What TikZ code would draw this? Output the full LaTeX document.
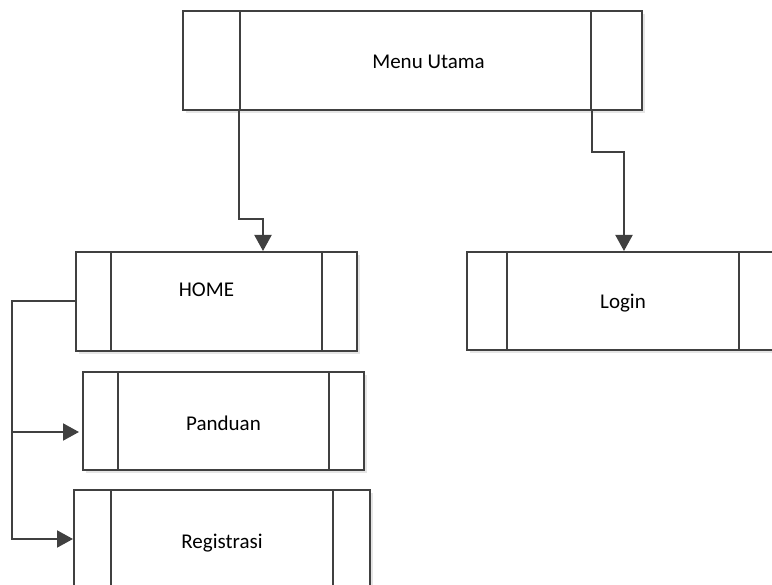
\documentclass[tikz,border=0pt]{standalone}
\usepackage{fontspec}
\setmainfont{Carlito}
\usetikzlibrary{arrows.meta,shadows}
\definecolor{linegray}{HTML}{404040}

\begin{document}
\begin{tikzpicture}[x=1pt,y=-1pt,
    link/.style={draw=linegray,line width=2pt,-{Triangle[length=16pt,width=17pt]}},
    proc/.style={draw=linegray,line width=2pt,fill=white,rectangle,inner sep=0pt,
      font=\fontsize{21}{25}\selectfont,
      drop shadow={shadow xshift=3pt,shadow yshift=-3pt,fill=black!10,opacity=1}},
    bars/.style 2 args={path picture={
      \draw[linegray,line width=2pt] ([xshift=#1]path picture bounding box.north west) -- ([xshift=#1]path picture bounding box.south west);
      \draw[linegray,line width=2pt] ([xshift=-#2]path picture bounding box.north east) -- ([xshift=-#2]path picture bounding box.south east);}},
    txt/.style={font=\fontsize{21}{25}\selectfont,inner sep=0pt}]
  \useasboundingbox (0,0) rectangle (772,585);

  % boxes
  \node[proc,bars={57pt}{51pt},minimum width=459pt,minimum height=99pt,
        label={[txt,xshift=16pt,yshift=-1pt]center:Menu Utama}] (menu) at (412.5,60.5) {};
  \node[proc,bars={35pt}{35pt},minimum width=281pt,minimum height=99pt,
        label={[txt,xshift=-10pt,yshift=12pt]center:HOME}] (home) at (216.5,301.5) {};
  \node[proc,bars={40pt}{40pt},minimum width=312pt,minimum height=98pt,
        label={[txt,yshift=-2pt]center:Login}] (login) at (623,301) {};
  \node[proc,bars={35pt}{35pt},minimum width=281pt,minimum height=98pt,
        label={[txt,yshift=-2pt]center:Panduan}] (panduan) at (223.5,421) {};
  \node[proc,bars={37pt}{37pt},minimum width=296pt,minimum height=104pt,
        label={[txt,yshift=-1pt]center:Registrasi}] (registrasi) at (222,542) {};

  % menu -> home, login
  \draw[link] ([xshift=57pt]menu.south west) -- ++(0,108.5) -| ([xshift=46.5pt]home.north);
  \draw[link] ([xshift=-51pt]menu.south east) -- ++(0,41) -| ([xshift=1pt]login.north);

  % home -> panduan, registrasi
  \draw[link] (home.west) -- ++(-63,0) coordinate (bus) |- ([yshift=3pt]registrasi.west);
  \coordinate (pin) at ([yshift=-11pt]panduan.west);
  \draw[link,shorten >=3pt] (bus |- pin) -- (pin);
\end{tikzpicture}
\end{document}
